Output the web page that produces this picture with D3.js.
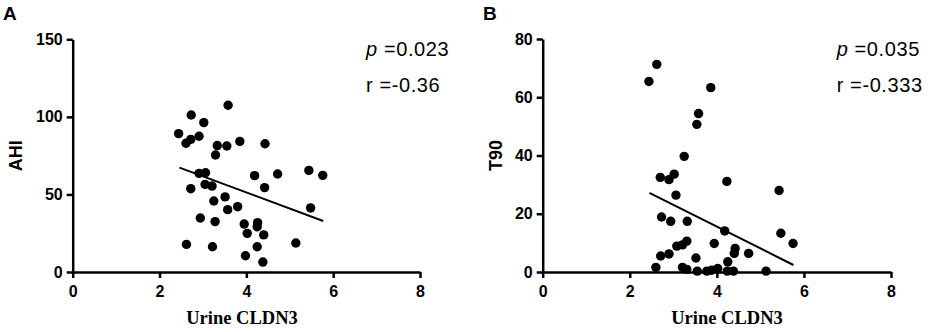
<!DOCTYPE html>
<html>
<head>
<meta charset="utf-8">
<script src="https://cdn.jsdelivr.net/npm/d3@7"></script>
<style>
  html, body { margin: 0; padding: 0; background: #fff; }
  svg { display: block; }
</style>
</head>
<body>
<div id="chart"></div>
<script>
// Panel A: Urine CLDN3 vs AHI
const cldn3A = [2.44, 2.73, 2.61, 2.72, 2.91, 3.02, 3.58, 3.33, 3.55, 3.29, 3.85, 4.43, 2.91, 3.06, 2.72, 3.05, 3.21, 4.19, 4.72, 4.42,
                5.44, 5.76, 5.48, 3.51, 3.25, 3.57, 3.80, 2.94, 3.28, 3.95, 4.26, 4.25, 4.02, 4.40, 2.62, 3.22, 4.25, 5.14, 3.98, 4.38];
const ahi    = [89.2, 101.2, 83.0, 85.5, 87.5, 96.3, 107.5, 81.5, 81.2, 75.4, 84.2, 82.7, 63.6, 64.0, 53.7, 56.5, 55.4, 62.1, 63.2, 54.4,
                65.5, 62.3, 41.3, 48.4, 45.8, 40.2, 42.1, 34.8, 32.5, 30.9, 31.8, 29.2, 24.9, 23.9, 17.8, 16.3, 16.3, 18.7, 10.5, 6.4];
const fitAx = [2.46, 5.77];
const fitAy = [67.3, 32.9];

// Panel B: Urine CLDN3 vs T90
const cldn3B = [2.44, 2.62, 3.86, 3.58, 3.54, 3.25, 2.70, 2.90, 3.02, 3.06, 4.23, 5.43, 2.73, 2.94, 3.32, 4.18, 5.47, 5.75, 3.94, 3.08,
                3.21, 3.31, 2.71, 2.90, 3.52, 4.42, 4.40, 4.73, 2.60, 3.21, 3.31, 3.55, 3.77, 3.88, 4.02, 4.25, 4.24, 4.38, 5.13];
const t90    = [65.4, 71.3, 63.3, 54.4, 50.7, 39.7, 32.5, 31.7, 33.6, 26.4, 31.1, 28.0, 18.9, 17.4, 17.4, 14.1, 13.3, 9.8, 9.8, 8.9,
                9.3, 10.6, 5.5, 6.2, 4.8, 8.1, 6.4, 6.4, 1.6, 1.6, 0.9, 0.3, 0.3, 0.6, 1.2, 3.5, 0.3, 0.3, 0.3];
const fitBx = [2.45, 5.76];
const fitBy = [27.2, 2.4];

const xTicks = [0, 2, 4, 6, 8];
const yTicksA = [0, 50, 100, 150];
const yTicksB = [0, 20, 40, 60, 80];

const W = 935, H = 332;
const sans = '"Liberation Sans", Arial, sans-serif';
const svg = d3.select('#chart').append('svg').attr('width', W).attr('height', H);

const panels = [
  { letter: 'A', letterX: 3, xs: cldn3A, ys: ahi, fx: fitAx, fy: fitAy, yMax: 150, yTicks: yTicksA,
    yLabel: 'AHI', p: '=0.023', r: 'r =-0.36', left: 72.7, right: 420, top: 39.3,
    yLabelX: 15, xLabelX: 242, statX: 366 },
  { letter: 'B', letterX: 483, xs: cldn3B, ys: t90, fx: fitBx, fy: fitBy, yMax: 80, yTicks: yTicksB,
    yLabel: 'T90', p: '=0.035', r: 'r =-0.333', left: 542.7, right: 891, top: 39,
    yLabelX: 495, xLabelX: 727, statX: 836.7 },
];
const bottom = 272;

panels.forEach((pn) => {
  const x = d3.scaleLinear().domain([0, 8]).range([pn.left, pn.right]);
  const y = d3.scaleLinear().domain([0, pn.yMax]).range([bottom, pn.top]);

  const styleAxis = (sel) => {
    sel.select('.domain').attr('stroke', '#000').attr('stroke-width', 2.5);
    sel.selectAll('.tick line').attr('stroke', '#000').attr('stroke-width', 2.5);
    sel.selectAll('text')
      .attr('fill', '#000')
      .attr('font-family', sans)
      .attr('font-weight', 'bold')
      .attr('font-size', 16);
  };

  svg.append('g')
    .attr('transform', `translate(0,${bottom})`)
    .call(d3.axisBottom(x).tickValues(xTicks).tickSize(6).tickSizeOuter(0).tickPadding(8))
    .call(styleAxis);

  svg.append('g')
    .attr('transform', `translate(${pn.left},0)`)
    .call(d3.axisLeft(y).tickValues(pn.yTicks).tickSize(6).tickSizeOuter(0).tickPadding(4))
    .call(styleAxis);

  // points
  svg.append('g')
    .selectAll('circle')
    .data(d3.zip(pn.xs, pn.ys))
    .enter()
    .append('circle')
    .attr('cx', (d) => x(d[0]))
    .attr('cy', (d) => y(d[1]))
    .attr('r', 4.7)
    .attr('fill', '#000');

  // fit line
  svg.append('path')
    .datum(d3.zip(pn.fx, pn.fy))
    .attr('d', d3.line().x((d) => x(d[0])).y((d) => y(d[1])))
    .attr('fill', 'none')
    .attr('stroke', '#000')
    .attr('stroke-width', 2);

  // panel letter
  svg.append('text')
    .attr('x', pn.letterX).attr('y', 20)
    .attr('font-family', sans)
    .attr('font-weight', 'bold')
    .attr('font-size', 19)
    .text(pn.letter);

  // y label
  svg.append('text')
    .attr('transform', `translate(${pn.yLabelX + 6.5},${(bottom + pn.top) / 2}) rotate(-90)`)
    .attr('text-anchor', 'middle')
    .attr('font-family', sans)
    .attr('font-weight', 'bold')
    .attr('font-size', 18)
    .text(pn.yLabel);

  // x label
  svg.append('text')
    .attr('x', pn.xLabelX).attr('y', 324)
    .attr('text-anchor', 'middle')
    .attr('font-family', '"Liberation Serif", "Times New Roman", serif')
    .attr('font-weight', 'bold')
    .attr('font-size', 18.5)
    .text('Urine CLDN3');

  // stats
  const stat = svg.append('text')
    .attr('x', pn.statX).attr('y', 55.5)
    .attr('font-family', sans)
    .attr('font-size', 20)
    .attr('letter-spacing', 0.6);
  stat.append('tspan').attr('font-style', 'italic').text('p');
  stat.append('tspan').text(' ' + pn.p);

  svg.append('text')
    .attr('x', pn.statX).attr('y', 91.5)
    .attr('font-family', sans)
    .attr('font-size', 20)
    .attr('letter-spacing', 0.6)
    .text(pn.r);
});
</script>
</body>
</html>
